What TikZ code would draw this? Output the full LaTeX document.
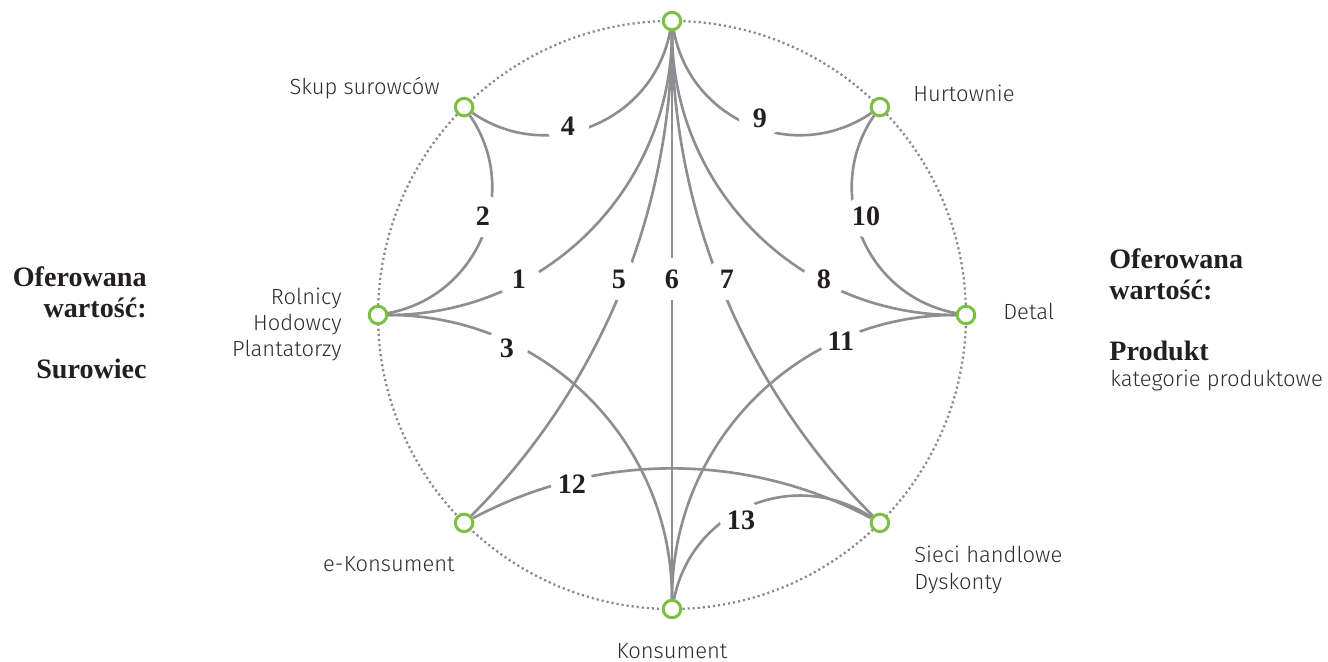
\documentclass[tikz,border=0pt]{standalone}
\usepackage{fontspec}
\newfontfamily\lightsans{Fira Sans Light}
\newfontfamily\headserif{Liberation Serif}
\definecolor{linkgray}{RGB}{142,142,146}
\definecolor{ringgray}{RGB}{135,135,140}
\definecolor{placegreen}{RGB}{122,193,66}
\definecolor{tagtext}{RGB}{45,45,45}
\definecolor{numtext}{RGB}{35,31,32}
\pgfdeclarelayer{back}
\pgfsetlayers{back,main}
\begin{document}
\begin{tikzpicture}[x=0.02cm,y=0.02cm,
  place/.style={circle,draw=placegreen,line width=1.7pt,fill=white,minimum size=0.35cm,inner sep=0pt},
  link/.style={draw=linkgray,line width=1.5pt},
  ring/.style={draw=ringgray,line width=1.3pt,dash pattern=on 1.2pt off 1.7pt},
  num/.style={circle,fill=white,minimum size=0.84cm,inner sep=0pt,text=numtext,font=\headserif\fontsize{16}{18}\selectfont\bfseries},
  tag/.style={text=tagtext,inner sep=0pt,font=\lightsans\fontsize{12.5}{15}\selectfont},
  head/.style={text=numtext,inner sep=0pt,font=\headserif\fontsize{16}{17.8}\selectfont\bfseries}]
\useasboundingbox (-672,-347) rectangle (656,315);

% places on the ring
\node[place] (T)  at (90:294)  {};
\node[place] (H)  at (45:294)  {};
\node[place] (D)  at (0:294)   {};
\node[place] (S)  at (-45:294) {};
\node[place] (B)  at (-90:294) {};
\node[place] (EK) at (225:294) {};
\node[place] (L)  at (180:294) {};
\node[place] (SK) at (135:294) {};

\begin{pgfonlayer}{back}
\draw[ring] (0,0) circle (294);
% links between places
\draw[link] (L)  to[bend right=45] (T);                    % 1
\draw[link] (L)  to[bend right=57,looseness=1.1] (SK);     % 2
\draw[link] (L)  to[bend left=45] (B);                     % 3
\draw[link] (SK) to[bend right=57,looseness=1.1] (T);      % 4
\draw[link] (EK) to[bend right=22.5,looseness=0.885] (T);  % 5
\draw[link] (B)  -- (T);                                   % 6
\draw[link] (S)  to[bend left=22.5,looseness=0.885] (T);   % 7
\draw[link] (D)  to[bend left=45] (T);                     % 8
\draw[link] (T)  to[bend right=57,looseness=1.1] (H);      % 9
\draw[link] (H)  to[bend right=57,looseness=1.1] (D);      % 10
\draw[link] (D)  to[bend right=45] (B);                    % 11
\draw[link] (EK) to[bend left=28,looseness=0.91] (S);      % 12
\draw[link] (B)  to[bend left=56,looseness=1.1] (S);       % 13
% link numbers
\node[num] (n1)  at (-153,36)  {1};
\node[num] (n2)  at (-189,99)  {2};
\node[num] (n3)  at (-165,-33) {3};
\node[num] (n4)  at (-104,189) {4};
\node[num] (n5)  at (-53,36)   {5};
\node[num] (n6)  at (0,36)     {6};
\node[num] (n7)  at (55,36)    {7};
\node[num] (n8)  at (152,36)   {8};
\node[num] (n9)  at (88,197)   {9};
\node[num] (n10) at (194,99)   {10};
\node[num] (n11) at (169,-26)  {11};
\node[num] (n12) at (-100,-169){12};
\node[num] (n13) at (69,-205)  {13};
\end{pgfonlayer}

% place names (multi-line nodes sit on the baseline of their last line)
\node[tag,anchor=base east] (tSK) at (-232,220) {Skup surowców};
\node[tag,anchor=base west] (tH)  at (241,213)  {Hurtownie};
\node[tag,anchor=base east,align=right] (tL) at (-330,-42) {Rolnicy\\Hodowcy\\Plantatorzy};
\node[tag,anchor=base west] (tD)  at (331,-5)   {Detal};
\node[tag,anchor=base east] (tEK) at (-217,-256) {e-Konsument};
\node[tag,anchor=base west,align=left] (tS) at (242,-274) {Sieci handlowe\\Dyskonty};
\node[tag,anchor=base] (tB) at (0,-343) {Konsument};

% side headings
\node[head,anchor=base east,align=right] (lh) at (-525,-3) {Oferowana\\wartość:};
\node[head,anchor=base east] (lv) at (-525,-64) {Surowiec};
\node[head,anchor=base west,align=left] (rh) at (437,15) {Oferowana\\wartość:};
\node[head,anchor=base west] (rv) at (437,-45.7) {Produkt};
\node[tag,anchor=base west] (rk) at (438,-71.7) {kategorie produktowe};
\end{tikzpicture}
\end{document}
